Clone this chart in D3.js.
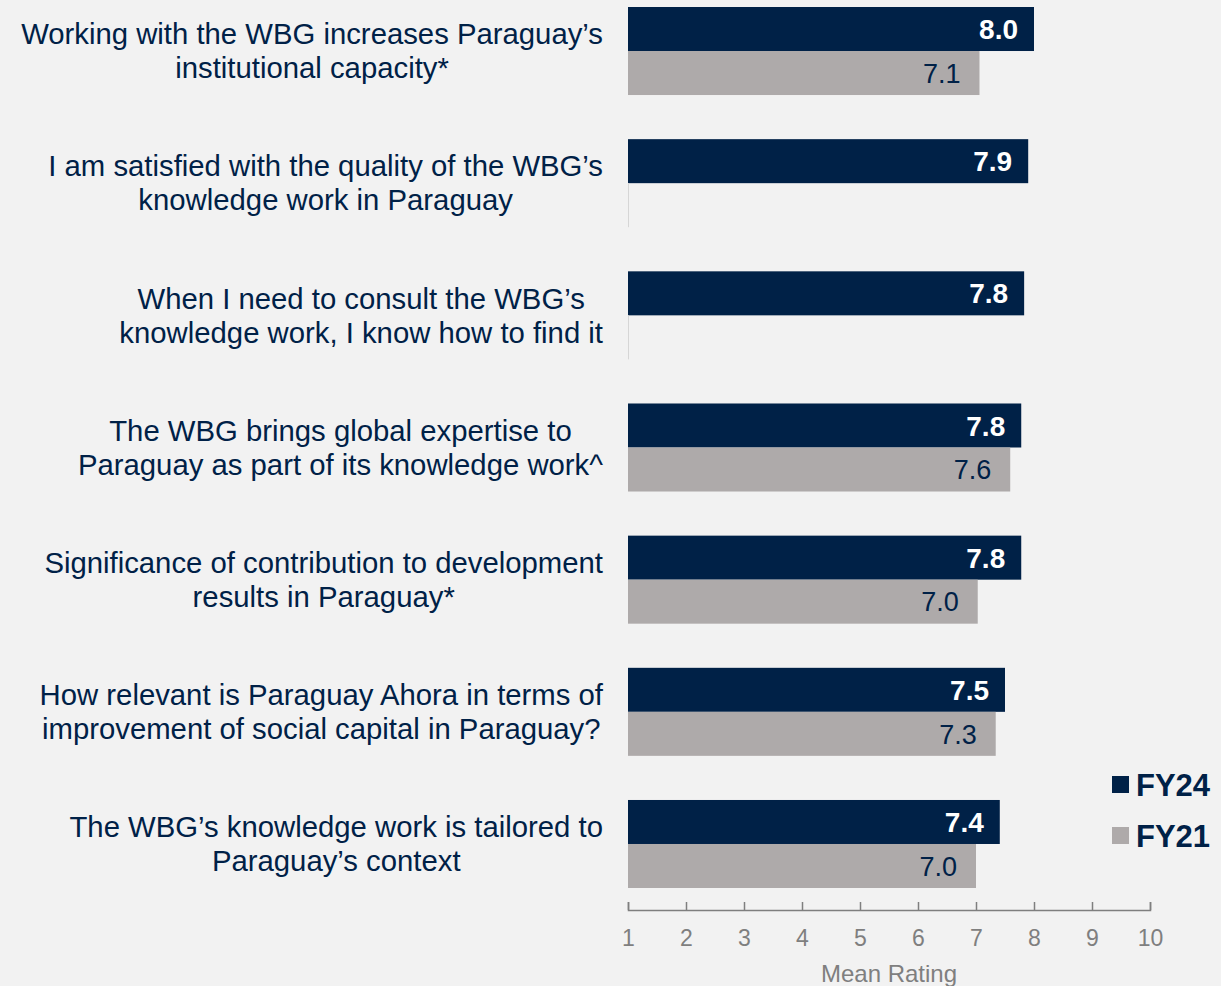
<!DOCTYPE html>
<html>
<head>
<meta charset="utf-8">
<script src="https://cdn.jsdelivr.net/npm/d3@7"></script>
<style>
  html, body { margin: 0; padding: 0; background: #f2f2f2; }
  svg { display: block; font-family: Arial, "Liberation Sans", sans-serif; }
</style>
</head>
<body>
<script>
const w = 1221;
const h = 986;

// survey statements (each line of the label)
const categories = [
    ["Working with the WBG increases Paraguay\u2019s", "institutional capacity*"],
    ["I am satisfied with the quality of the WBG\u2019s", "knowledge work in Paraguay"],
    ["When I need to consult the WBG\u2019s", "knowledge work, I know how to find it"],
    ["The WBG brings global expertise to", "Paraguay as part of its knowledge work^"],
    ["Significance of contribution to development", "results in Paraguay*"],
    ["How relevant is Paraguay Ahora in terms of", "improvement of social capital in Paraguay?"],
    ["The WBG\u2019s knowledge work is tailored to", "Paraguay\u2019s context"]
];
const fy24 = [8.00, 7.90, 7.83, 7.78, 7.78, 7.50, 7.41];
const fy21 = [7.06, null, null, 7.59, 7.03, 7.34, 7.00];
const seriesNames = ["FY24", "FY21"];
const ticks = [1, 2, 3, 4, 5, 6, 7, 8, 9, 10];

const navy = "#002147";
const grey = "#aeaaaa";
const axisGrey = "#7f7f7f";

const svg = d3.select("body")
    .append("svg")
    .attr("width", w)
    .attr("height", h);

const xScale = d3.scaleLinear()
    .domain([1, 10])
    .range([628, 1150]);

const ids = categories.map((c, i) => i);
const yScale = d3.scaleBand()
    .domain(ids)
    .range([7, 888])
    .paddingInner(0.334)
    .paddingOuter(0);

const ySub = d3.scaleBand()
    .domain(seriesNames)
    .range([0, yScale.bandwidth()]);

const rows = ids.map((i) => ({ i: i, lines: categories[i], FY24: fy24[i], FY21: fy21[i] }));

// bars
const groups = svg.selectAll("g.row")
    .data(rows)
    .enter()
    .append("g")
    .attr("class", "row")
    .attr("transform", (d) => "translate(0," + yScale(d.i) + ")");

seriesNames.forEach((s) => {
    // a missing value still leaves a hairline at the axis start
    groups.append("rect")
        .attr("x", xScale(1))
        .attr("y", ySub(s))
        .attr("height", ySub.bandwidth())
        .attr("width", (d) => d[s] == null ? 1 : xScale(d[s]) - xScale(1))
        .attr("fill", (d) => d[s] == null ? "#d6d6d6" : (s == "FY24" ? navy : grey));

    groups.filter((d) => d[s] != null)
        .append("text")
        .attr("x", (d) => xScale(d[s]) - (s == "FY24" ? 16 : 19))
        .attr("y", ySub(s) + ySub.bandwidth() / 2)
        .attr("dy", "0.36em")
        .attr("text-anchor", "end")
        .attr("font-size", s == "FY24" ? "28px" : "27px")
        .attr("font-weight", s == "FY24" ? "bold" : "normal")
        .attr("fill", s == "FY24" ? "#ffffff" : navy)
        .text((d) => d[s].toFixed(1));
});

// category labels: lines centred on each other, block right-aligned
groups.each(function (d) {
    const g = d3.select(this);
    const t = g.append("text")
        .attr("font-size", "29.3px")
        .attr("fill", navy)
        .attr("text-anchor", "middle");
    const spans = d.lines.map((line, k) => t.append("tspan")
        .attr("y", yScale.bandwidth() / 2 + (k - (d.lines.length - 1) / 2) * 34)
        .attr("dy", "0.35em")
        .text(line));
    const widest = d3.max(spans, (sp) => sp.node().getComputedTextLength());
    spans.forEach((sp) => sp.attr("x", 603 - widest / 2));
});

// x axis
const xAxis = d3.axisBottom(xScale)
    .tickValues(ticks)
    .tickSize(-8)
    .tickPadding(20)
    .tickFormat(d3.format("d"));

const axisG = svg.append("g")
    .attr("transform", "translate(0,910)")
    .call(xAxis);
axisG.select(".domain").attr("stroke", axisGrey).attr("stroke-width", 1.5);
axisG.selectAll(".tick line").attr("stroke", axisGrey).attr("stroke-width", 1.5);
axisG.selectAll(".tick text")
    .attr("fill", axisGrey)
    .attr("font-size", "23px")
    .style("font-family", "Arial, 'Liberation Sans', sans-serif");

svg.append("text")
    .attr("x", (xScale(1) + xScale(10)) / 2)
    .attr("y", 974)
    .attr("dy", "0.35em")
    .attr("text-anchor", "middle")
    .attr("font-size", "24px")
    .attr("fill", axisGrey)
    .text("Mean Rating");

// legend
const legend = svg.selectAll("g.legend")
    .data(seriesNames)
    .enter()
    .append("g")
    .attr("class", "legend")
    .attr("transform", (d, i) => "translate(1112," + (776 + i * 51) + ")");
legend.append("rect")
    .attr("width", 17)
    .attr("height", 17)
    .attr("fill", (d) => d == "FY24" ? navy : grey);
legend.append("text")
    .attr("x", 24)
    .attr("y", 8.5)
    .attr("dy", "0.36em")
    .attr("font-size", "31px")
    .attr("font-weight", "bold")
    .attr("fill", navy)
    .text((d) => d);
</script>
</body>
</html>
